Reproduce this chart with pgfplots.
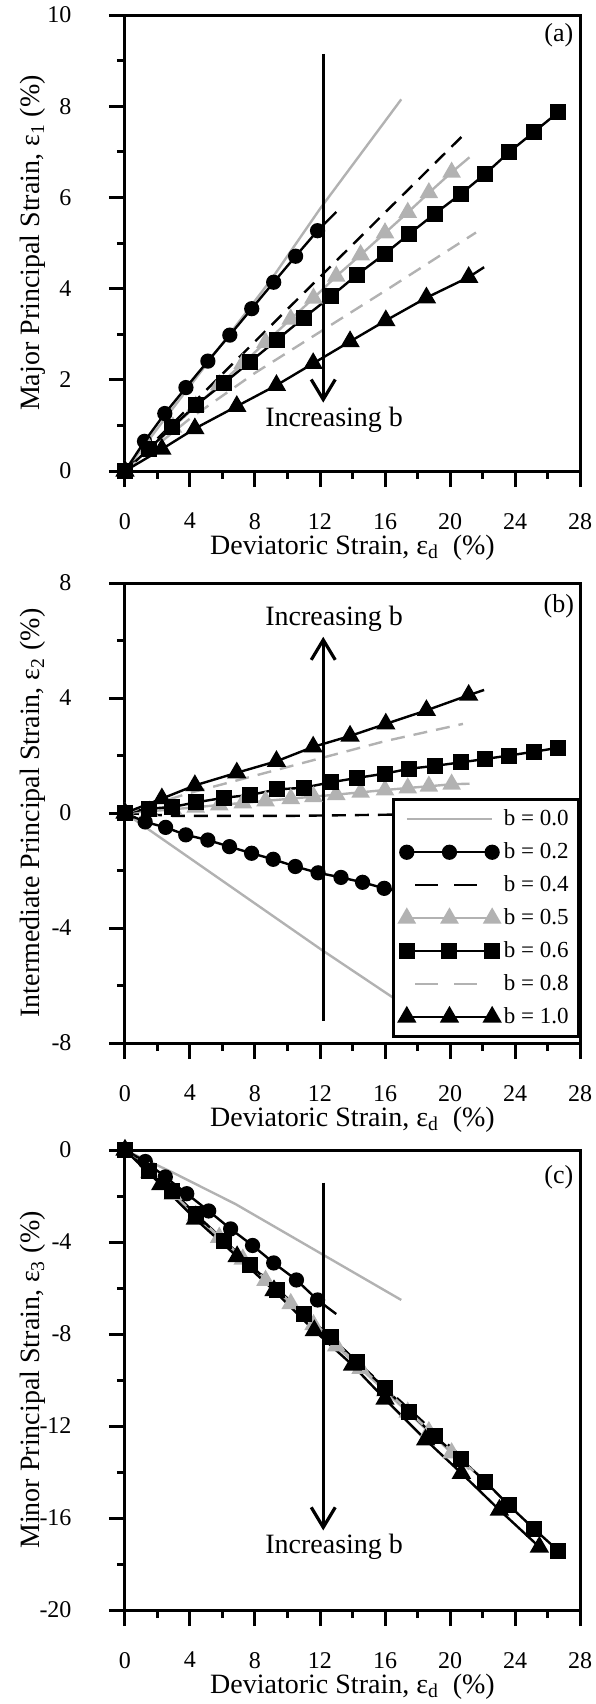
\documentclass[border=0pt]{standalone}
\usepackage{fontspec}
\setmainfont{Liberation Serif}
\usepackage{pgfplots}
\pgfplotsset{compat=1.18}
\usetikzlibrary{arrows.meta}
\definecolor{lg}{RGB}{178,178,178}

\tikzset{
  arr/.style={line width=1.6pt, -{Straight Barb[length=10pt,width=12pt,line width=1.6pt]}},
  txt/.style={font=\fontsize{14}{16}\selectfont},
}
\pgfplotsset{
  myax/.style={
    scale only axis, width=227.5pt,
    xmin=0, xmax=28, xtick={0,4,...,28}, minor x tick num=1, minor y tick num=1,
    xticklabels={0,4,8,12,16,20,24,28},
    xtick align=outside, ytick align=outside, xtick pos=left, ytick pos=left,
    major tick length=8pt, minor tick length=4pt,
    every tick/.append style={black, line width=1.5pt},
    every minor tick/.append style={black, line width=1.5pt},
    every major tick/.append style={black, line width=1.5pt},
    axis line style={line width=1.5pt},
    every axis/.append style={line width=1.5pt},
    tick label style={font=\fontsize{12}{14}\selectfont},
    every x tick label/.append style={yshift=-9pt},
    every y tick label/.append style={xshift=-6pt, inner xsep=12pt},
    xlabel={Deviatoric Strain, ε\textsubscript{d}\ \ (\%)},
    label style={font=\fontsize{14}{16}\selectfont},
    xlabel style={at={(axis description cs:0.5,0)}, anchor=north, yshift=-28pt},
    ylabel style={at={([xshift=-46pt]axis description cs:0,0.5)}, anchor=center},
    clip=false,
    legend image code/.code={\draw[mark repeat=1,mark phase=1,##1] plot coordinates {(0cm,0cm) (0.75cm,0cm) (1.5cm,0cm)};},
  },
  s00/.style={color=lg, line width=1.2pt, mark=none},
  s02/.style={color=black, line width=1.2pt, mark=*, mark size=3.2pt},
  s04/.style={color=black, line width=1.2pt, mark=none, dash pattern=on 7pt off 4.5pt,
    legend image code/.code={\draw[##1, dash pattern=on 11.5pt off 8pt] (0.15cm,0cm) -- (1.5cm,0cm);}},
  s05/.style={color=lg, line width=1.2pt, mark=triangle*, mark size=4.2pt},
  s06/.style={color=black, line width=1.2pt, mark=square*, mark size=3.4pt},
  s08/.style={color=lg, line width=1.2pt, mark=none, dash pattern=on 7pt off 4.5pt,
    legend image code/.code={\draw[##1, dash pattern=on 11.5pt off 8pt] (0.15cm,0cm) -- (1.5cm,0cm);}},
  s10/.style={color=black, line width=1.2pt, mark=triangle*, mark size=4.4pt},
}

\begin{document}
\begin{tikzpicture}
\path[use as bounding box] (0,0) rectangle (297.5pt,-852pt);

% ---------------- (a)
\begin{axis}[myax, at={(62.5pt,-7.5pt)}, anchor=north west, height=228pt,
  ymin=0, ymax=10, ytick={0,2,...,10}, yticklabels={0,2,4,6,8,10},
  ylabel={Major Principal Strain, ε\textsubscript{1} (\%)}]
\addplot[s00] coordinates {(0,0) (9,4.2) (12,5.75) (17,8.15)};
\addplot[s02, mark indices={1,...,10}] coordinates {(0,0) (1.2,0.65) (2.45,1.26) (3.75,1.83) (5.1,2.41) (6.45,2.98) (7.8,3.56) (9.15,4.14) (10.5,4.71) (11.85,5.27) (13.0,5.68)};
\addplot[s04] coordinates {(0,0) (10,3.55) (20.8,7.36)};
\addplot[s05, mark indices={1,...,15}] coordinates {(0,0) (1.5,0.49) (2.95,0.96) (4.35,1.42) (5.8,1.89) (7.25,2.36) (8.65,2.82) (10.2,3.33) (11.6,3.79) (13.0,4.27) (14.5,4.74) (16.0,5.22) (17.4,5.67) (18.7,6.1) (20.1,6.55) (21.2,6.88)};
\addplot[s06] coordinates {(0,0) (1.45,0.48) (2.92,0.97) (4.35,1.44) (6.1,1.93) (7.72,2.4) (9.36,2.88) (11.0,3.36) (12.68,3.83) (14.27,4.3) (15.98,4.76) (17.5,5.2) (19.06,5.64) (20.65,6.07) (22.18,6.52) (23.63,6.99) (25.15,7.43) (26.67,7.87)};
\addplot[s08] coordinates {(0,0) (4,1.15) (8,2.15) (12,3.05) (16,3.95) (21.6,5.23)};
\addplot[s10, mark indices={1,...,10}] coordinates {(0,0) (2.27,0.48) (4.3,0.93) (6.88,1.42) (9.32,1.88) (11.58,2.36) (13.85,2.84) (16.05,3.3) (18.55,3.8) (21.15,4.25) (22.1,4.47)};
\draw[arr] (axis cs:12.2,9.15) -- (axis cs:12.2,1.5);
\node[txt] at (axis cs:12.87,1.13) {Increasing b};
\node[font=\fontsize{13}{15}\selectfont] at (axis cs:26.7,9.55) {(a)};
\end{axis}

% ---------------- (b)
\begin{axis}[myax, at={(62.5pt,-291.5pt)}, anchor=north west, height=230pt,
  ymin=-8, ymax=8, ytick={-8,-4,0,4,8}, yticklabels={-8,-4,0,4,8},
  ylabel={Intermediate Principal Strain, ε\textsubscript{2} (\%)},
  legend style={at={(1,0)}, anchor=south east, yshift=2.5pt,
    draw=black, line width=1.5pt, fill=white, font=\fontsize{11.5}{13}\selectfont,
    inner xsep=3pt, inner ysep=3pt, row sep=3pt},
  legend cell align=left]
\addplot[s00] coordinates {(0,0) (12,-4.72) (17.1,-6.65)};
\addplot[s02, mark indices={1,...,13}] coordinates {(0,0) (1.24,-0.31) (2.5,-0.5) (3.74,-0.76) (5.1,-0.94) (6.43,-1.17) (7.79,-1.4) (9.12,-1.61) (10.48,-1.86) (11.88,-2.08) (13.29,-2.24) (14.62,-2.41) (15.95,-2.62) (17.5,-2.8)};
\addplot[s04] coordinates {(0,0) (3,-0.1) (10,-0.1) (16,-0.06) (20.8,0)};
\addplot[s05, mark indices={1,...,15}] coordinates {(0,0) (1.5,0.06) (2.95,0.13) (4.35,0.2) (5.8,0.28) (7.25,0.35) (8.65,0.42) (10.2,0.5) (11.6,0.57) (13.0,0.64) (14.5,0.72) (16.0,0.8) (17.4,0.87) (18.7,0.93) (20.1,1.0) (21.2,1.02)};
\addplot[s06] coordinates {(0,0) (1.45,0.15) (2.92,0.21) (4.35,0.37) (6.1,0.53) (7.72,0.63) (9.36,0.82) (11.0,0.88) (12.68,1.07) (14.27,1.22) (15.98,1.37) (17.5,1.54) (19.06,1.64) (20.65,1.76) (22.18,1.88) (23.63,2.0) (25.15,2.13) (26.67,2.27)};
\addplot[s08] coordinates {(0,0) (4,0.7) (8,1.3) (12,1.9) (16,2.5) (20.8,3.1)};
\addplot[s10, mark indices={1,...,10}] coordinates {(0,0) (2.27,0.5) (4.3,0.96) (6.88,1.4) (9.32,1.8) (11.58,2.3) (13.85,2.68) (16.05,3.1) (18.55,3.57) (21.15,4.1) (22.1,4.28)};
\legend{b = 0.0, b = 0.2, b = 0.4, b = 0.5, b = 0.6, b = 0.8, b = 1.0}
\draw[arr] (axis cs:12.2,-7.22) -- (axis cs:12.2,6.13);
\node[txt] at (axis cs:12.87,6.76) {Increasing b};
\node[font=\fontsize{13}{15}\selectfont] at (axis cs:26.7,7.2) {(b)};
\end{axis}

% ---------------- (c)
\begin{axis}[myax, at={(62.5pt,-575pt)}, anchor=north west, height=230pt,
  ymin=-20, ymax=0, ytick={-20,-16,...,0}, yticklabels={-20,-16,-12,-8,-4,0},
  ylabel={Minor Principal Strain, ε\textsubscript{3} (\%)}]
\addplot[s00] coordinates {(0,0) (3,-1.0) (6.8,-2.35) (17,-6.52)};
\addplot[s02, mark indices={1,...,10}] coordinates {(0,0) (1.25,-0.5) (2.48,-1.17) (3.8,-1.9) (5.15,-2.65) (6.5,-3.43) (7.85,-4.15) (9.15,-4.91) (10.55,-5.65) (11.85,-6.52) (13.0,-7.13)};
\addplot[s04] coordinates {(0,0) (10,-6.45) (20.8,-13.4)};
\addplot[s05, mark indices={1,...,15}] coordinates {(0,0) (1.5,-0.98) (2.95,-1.93) (4.35,-2.85) (5.8,-3.8) (7.25,-4.75) (8.65,-5.67) (10.2,-6.68) (11.6,-7.6) (13.0,-8.52) (14.5,-9.5) (16.0,-10.48) (17.4,-11.4) (18.7,-12.25) (20.1,-13.17) (21.2,-13.89)};
\addplot[s06] coordinates {(0,0) (1.45,-0.9) (2.92,-1.8) (4.35,-2.78) (6.1,-3.95) (7.72,-5.0) (9.36,-6.08) (11.0,-7.13) (12.68,-8.12) (14.27,-9.22) (15.98,-10.35) (17.5,-11.4) (19.06,-12.44) (20.65,-13.42) (22.18,-14.42) (23.63,-15.45) (25.15,-16.46) (26.67,-17.43)};
\addplot[s08] coordinates {(0,0) (10,-6.5) (21.5,-14.0)};
\addplot[s10] coordinates {(0,0) (2.2,-1.5) (4.33,-3.0) (6.9,-4.63) (9.17,-6.11) (11.65,-7.85) (14.0,-9.35) (16.0,-10.83) (18.5,-12.6) (20.7,-14.05) (23.04,-15.65) (25.5,-17.26)};
\draw[arr] (axis cs:12.2,-1.42) -- (axis cs:12.2,-16.54);
\node[txt] at (axis cs:12.87,-17.23) {Increasing b};
\node[font=\fontsize{13}{15}\selectfont] at (axis cs:26.7,-1.17) {(c)};
\end{axis}
\end{tikzpicture}
\end{document}
